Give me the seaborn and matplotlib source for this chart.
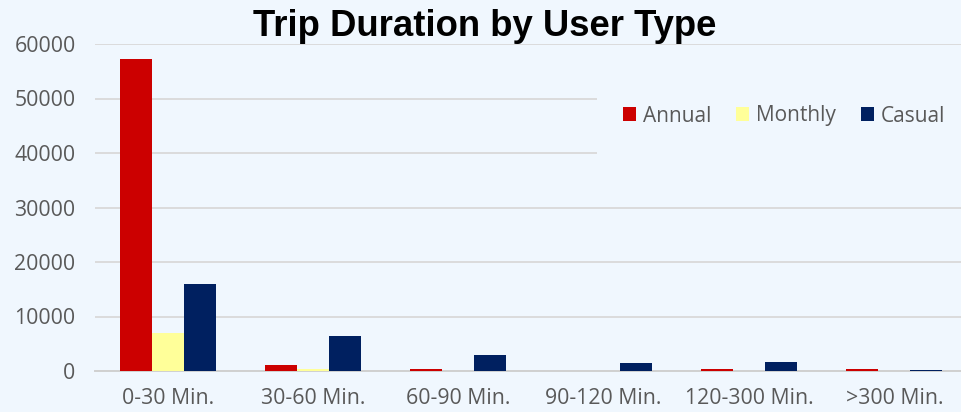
import matplotlib
matplotlib.use("Agg")
import matplotlib.pyplot as plt
import seaborn as sns
import pandas as pd
from matplotlib.patches import Rectangle

categories = ["0-30 Min.", "30-60 Min.", "60-90 Min.", "90-120 Min.", "120-300 Min.", ">300 Min."]
annual = [57300, 1160, 400, 30, 300, 300]
monthly = [7000, 300, 30, 0, 20, 20]
casual = [16000, 6400, 3000, 1550, 1650, 250]
series_names = ["Annual", "Monthly", "Casual"]
colors = ["#CC0000", "#FFFF99", "#002060"]
yticks = [0, 10000, 20000, 30000, 40000, 50000, 60000]

rows = []
for name, vals in zip(series_names, [annual, monthly, casual]):
    for c, v in zip(categories, vals):
        rows.append({"Duration": c, "Trips": v, "User": name})
df = pd.DataFrame(rows)

bg = "#F0F7FE"
sns.set_theme(style="white")
plt.rcParams["font.family"] = ["Open Sans", "DejaVu Sans"]

fig = plt.figure(figsize=(9.61, 4.12), dpi=100, facecolor=bg)
W, H = 961, 412
left, right, top, bottom = 95, 967, 44, 371
ax = fig.add_axes([left / W, 1 - bottom / H, (right - left) / W, (bottom - top) / H])
ax.set_facecolor(bg)

sns.barplot(data=df, x="Duration", y="Trips", hue="User", order=categories,
            hue_order=series_names, palette=colors, width=0.66, ax=ax,
            saturation=1, legend=False, linewidth=0, zorder=3)

ax.set_ylim(0, 60000)
ax.set_xlim(-0.5, len(categories) - 0.5)
ax.set_yticks(yticks)
ax.set_yticklabels([str(t) for t in yticks])
ax.yaxis.grid(True, color="#D9D9D9", linewidth=1.3)
ax.set_axisbelow(True)
for s in ["top", "right", "left"]:
    ax.spines[s].set_visible(False)
ax.spines["bottom"].set_color("#D0D0D0")
ax.spines["bottom"].set_linewidth(1.4)
ax.spines["bottom"].set_zorder(2)
ax.tick_params(axis="both", length=0, colors="#595959", labelsize=15.3)
ax.tick_params(axis="y", pad=14)
ax.tick_params(axis="x", pad=12)
ax.set_xlabel("")
ax.set_ylabel("")

# legend background covering gridlines
x0 = (597 - left) / (right - left)
y0 = (bottom - 172) / (bottom - top)
y1 = (bottom - 72) / (bottom - top)
ax.add_patch(Rectangle((x0, y0), 1.2 - x0, y1 - y0, transform=ax.transAxes,
                       facecolor=bg, edgecolor="none", zorder=1.5, clip_on=False))

handles = [Rectangle((0, 0), 1, 1, facecolor=c, edgecolor="none") for c in colors]
leg = fig.legend(handles, series_names, loc="center left",
                 bbox_to_anchor=(604 / W, 1 - 116 / H), ncol=3, frameon=False,
                 handlelength=0.65, handleheight=0.65, handletextpad=0.3,
                 columnspacing=1.2, fontsize=15)
for t in leg.get_texts():
    t.set_color("#595959")

fig.text(485 / W, 1 - 27 / H, "Trip Duration by User Type", ha="center", va="center",
         fontsize=26.3, fontweight="bold", color="black", family=["Liberation Sans", "DejaVu Sans"])

fig.savefig("out.png", dpi=100, facecolor=bg)
